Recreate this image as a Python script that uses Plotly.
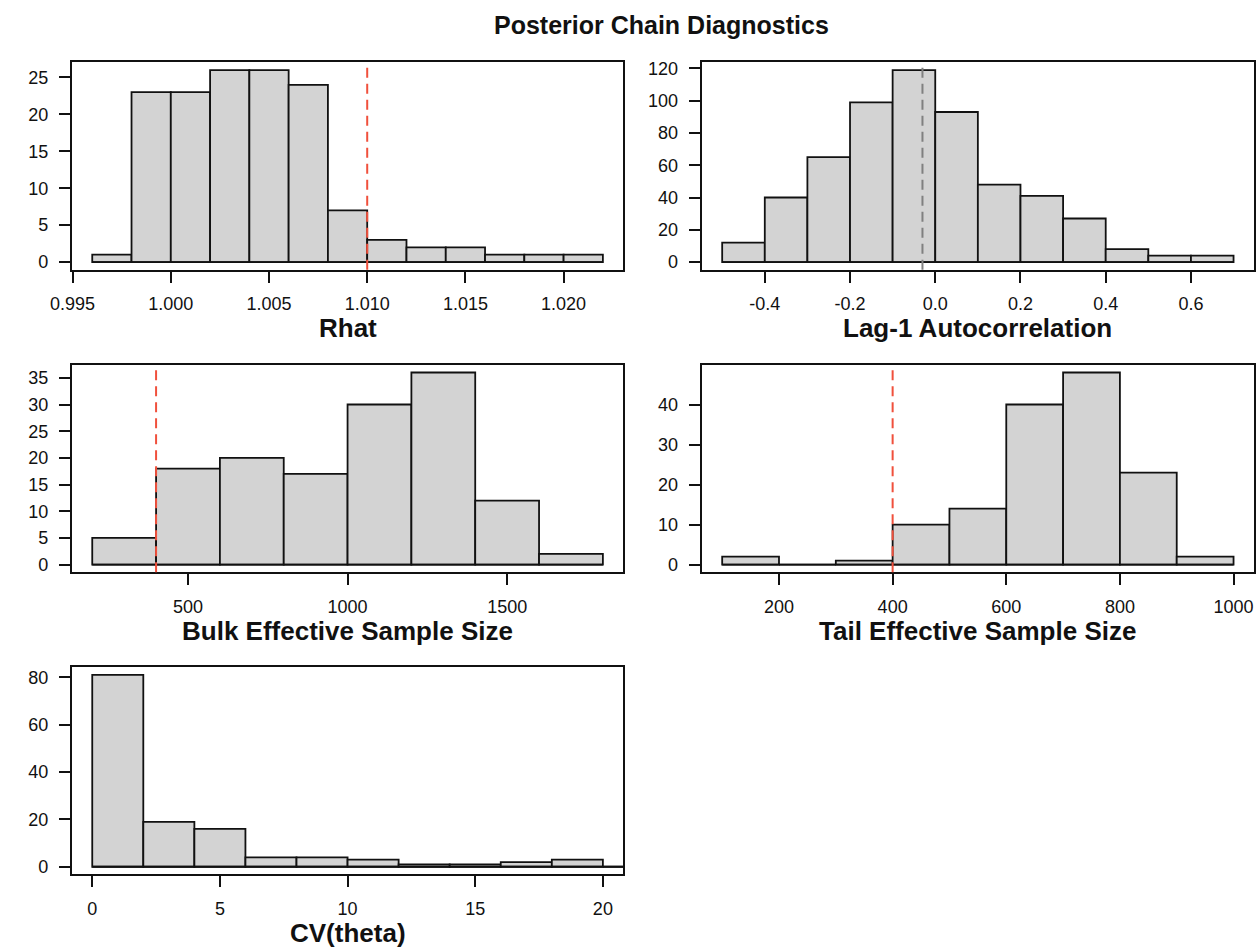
import plotly.graph_objects as go

# ---- histogram data: bin edges and counts per diagnostic ----
rhat_breaks = [0.996, 0.998, 1.000, 1.002, 1.004, 1.006, 1.008, 1.010,
               1.012, 1.014, 1.016, 1.018, 1.020, 1.022]
rhat_counts = [1, 23, 23, 26, 26, 24, 7, 3, 2, 2, 1, 1, 1]
rhat_cutoff = 1.01

acf_breaks = [-0.5, -0.4, -0.3, -0.2, -0.1, 0.0, 0.1, 0.2, 0.3, 0.4, 0.5, 0.6, 0.7]
acf_counts = [12, 40, 65, 99, 119, 93, 48, 41, 27, 8, 4, 4]
acf_mean = -0.03

bulk_breaks = [200, 400, 600, 800, 1000, 1200, 1400, 1600, 1800]
bulk_counts = [5, 18, 20, 17, 30, 36, 12, 2]
bulk_cutoff = 400

tail_breaks = [100, 200, 300, 400, 500, 600, 700, 800, 900, 1000]
tail_counts = [2, 0, 1, 10, 14, 40, 48, 23, 2]
tail_cutoff = 400

cv_breaks = [0, 2, 4, 6, 8, 10, 12, 14, 16, 18, 20, 22, 24]
cv_counts = [81, 19, 16, 4, 4, 3, 1, 1, 2, 3, 0, 0]
cv_xlim = [0, 20]

# ---- tick positions / labels ----
rhat_xticks = [0.995, 1.000, 1.005, 1.010, 1.015, 1.020]
rhat_xlabels = ["0.995", "1.000", "1.005", "1.010", "1.015", "1.020"]
rhat_yticks = [0, 5, 10, 15, 20, 25]

acf_xticks = [-0.4, -0.2, 0.0, 0.2, 0.4, 0.6]
acf_xlabels = ["-0.4", "-0.2", "0.0", "0.2", "0.4", "0.6"]
acf_yticks = [0, 20, 40, 60, 80, 100, 120]

bulk_xticks = [500, 1000, 1500]
bulk_yticks = [0, 5, 10, 15, 20, 25, 30, 35]

tail_xticks = [200, 400, 600, 800, 1000]
tail_yticks = [0, 10, 20, 30, 40]

cv_xticks = [0, 5, 10, 15, 20]
cv_yticks = [0, 20, 40, 60, 80]

titles = ["Rhat", "Lag-1 Autocorrelation", "Bulk Effective Sample Size",
          "Tail Effective Sample Size", "CV(theta)"]

# ---- page geometry (pixels) ----
W, H = 1260, 951
COLS = [(50.7, 612.0), (691.8, 1253.9)]
ROWS = [(58.8, 267.7), (363.5, 572.5), (668.2, 876.9)]

FONT = "Liberation Sans, Arial, Helvetica, sans-serif"
INK = "#111111"
FILL = "#D3D3D3"
RED = "#F0503C"
GREY = "#808080"


def xdom(c):
    return [COLS[c][0] / W, COLS[c][1] / W]


def ydom(r):
    return [1 - ROWS[r][1] / H, 1 - ROWS[r][0] / H]


def padded(lo, hi):
    span = hi - lo
    return [lo - 0.04 * span, hi + 0.04 * span]


panels = [
    dict(breaks=rhat_breaks, counts=rhat_counts, xlim=[rhat_breaks[0], rhat_breaks[-1]],
         xt=rhat_xticks, xl=rhat_xlabels, yt=rhat_yticks, vline=(rhat_cutoff, RED), pos=(0, 0)),
    dict(breaks=acf_breaks, counts=acf_counts, xlim=[acf_breaks[0], acf_breaks[-1]],
         xt=acf_xticks, xl=acf_xlabels, yt=acf_yticks, vline=(acf_mean, GREY), pos=(0, 1)),
    dict(breaks=bulk_breaks, counts=bulk_counts, xlim=[bulk_breaks[0], bulk_breaks[-1]],
         xt=bulk_xticks, xl=[str(v) for v in bulk_xticks], yt=bulk_yticks,
         vline=(bulk_cutoff, RED), pos=(1, 0)),
    dict(breaks=tail_breaks, counts=tail_counts, xlim=[tail_breaks[0], tail_breaks[-1]],
         xt=tail_xticks, xl=[str(v) for v in tail_xticks], yt=tail_yticks,
         vline=(tail_cutoff, RED), pos=(1, 1)),
    dict(breaks=cv_breaks, counts=cv_counts, xlim=cv_xlim,
         xt=cv_xticks, xl=[str(v) for v in cv_xticks], yt=cv_yticks, vline=None, pos=(2, 0)),
]

fig = go.Figure()
shapes = []
annotations = []
layout_axes = {}

for i, p in enumerate(panels, start=1):
    xa = "x" if i == 1 else f"x{i}"
    ya = "y" if i == 1 else f"y{i}"
    b = p["breaks"]
    centers = [(b[k] + b[k + 1]) / 2 for k in range(len(p["counts"]))]
    widths = [b[k + 1] - b[k] for k in range(len(p["counts"]))]

    fig.add_trace(go.Bar(
        x=centers, y=p["counts"], width=widths, xaxis=xa, yaxis=ya,
        marker=dict(color=FILL, line=dict(color=INK, width=1.8)),
        showlegend=False, hoverinfo="x+y",
    ))
    # baseline through all bins (shows empty bins as a flat edge)
    fig.add_trace(go.Scatter(
        x=[b[0], b[-1]], y=[0, 0], mode="lines", xaxis=xa, yaxis=ya,
        line=dict(color=INK, width=1.8), showlegend=False, hoverinfo="skip",
    ))

    row, col = p["pos"]
    ymax = max(p["counts"])
    axis_common = dict(
        showline=True, mirror=True, linecolor=INK, linewidth=2,
        ticks="outside", ticklen=11, tickwidth=1.6, tickcolor=INK,
        showgrid=False, zeroline=False,
        tickfont=dict(family=FONT, size=18, color=INK),
    )
    layout_axes["xaxis" if i == 1 else f"xaxis{i}"] = dict(
        axis_common, domain=xdom(col), range=padded(*p["xlim"]), anchor=ya,
        tickmode="array", tickvals=p["xt"], ticktext=p["xl"], ticklabelstandoff=6,
    )
    layout_axes["yaxis" if i == 1 else f"yaxis{i}"] = dict(
        axis_common, domain=ydom(row), range=padded(0, ymax), anchor=xa,
        tickmode="array", tickvals=p["yt"], ticktext=[str(v) for v in p["yt"]],
        ticklabelstandoff=7,
    )

    if p["vline"] is not None:
        xv, colr = p["vline"]
        shapes.append(dict(
            type="line", xref=xa, yref=f"{ya} domain", x0=xv, x1=xv, y0=0, y1=1,
            line=dict(color=colr, width=2, dash="10px,6px"), layer="above",
        ))

    # axis title under each panel
    annotations.append(dict(
        text=titles[i - 1], xref="paper", yref="paper",
        x=(COLS[col][0] + COLS[col][1]) / 2 / W,
        y=1 - (ROWS[row][1] + 59) / H,
        xanchor="center", yanchor="middle", showarrow=False,
        font=dict(family=FONT, size=26, color=INK, weight="bold"),
    ))

annotations.append(dict(
    text="Posterior Chain Diagnostics", xref="paper", yref="paper",
    x=651 / W, y=1 - 21 / H, xanchor="center", yanchor="middle", showarrow=False,
    font=dict(family=FONT, size=25, color=INK, weight="bold"),
))

fig.update_layout(
    width=W, height=H, margin=dict(l=0, r=0, t=0, b=0),
    paper_bgcolor="white", plot_bgcolor="white",
    shapes=shapes, annotations=annotations, barmode="overlay",
    font=dict(family=FONT, color=INK),
    **layout_axes,
)

fig.write_html("out.html")
